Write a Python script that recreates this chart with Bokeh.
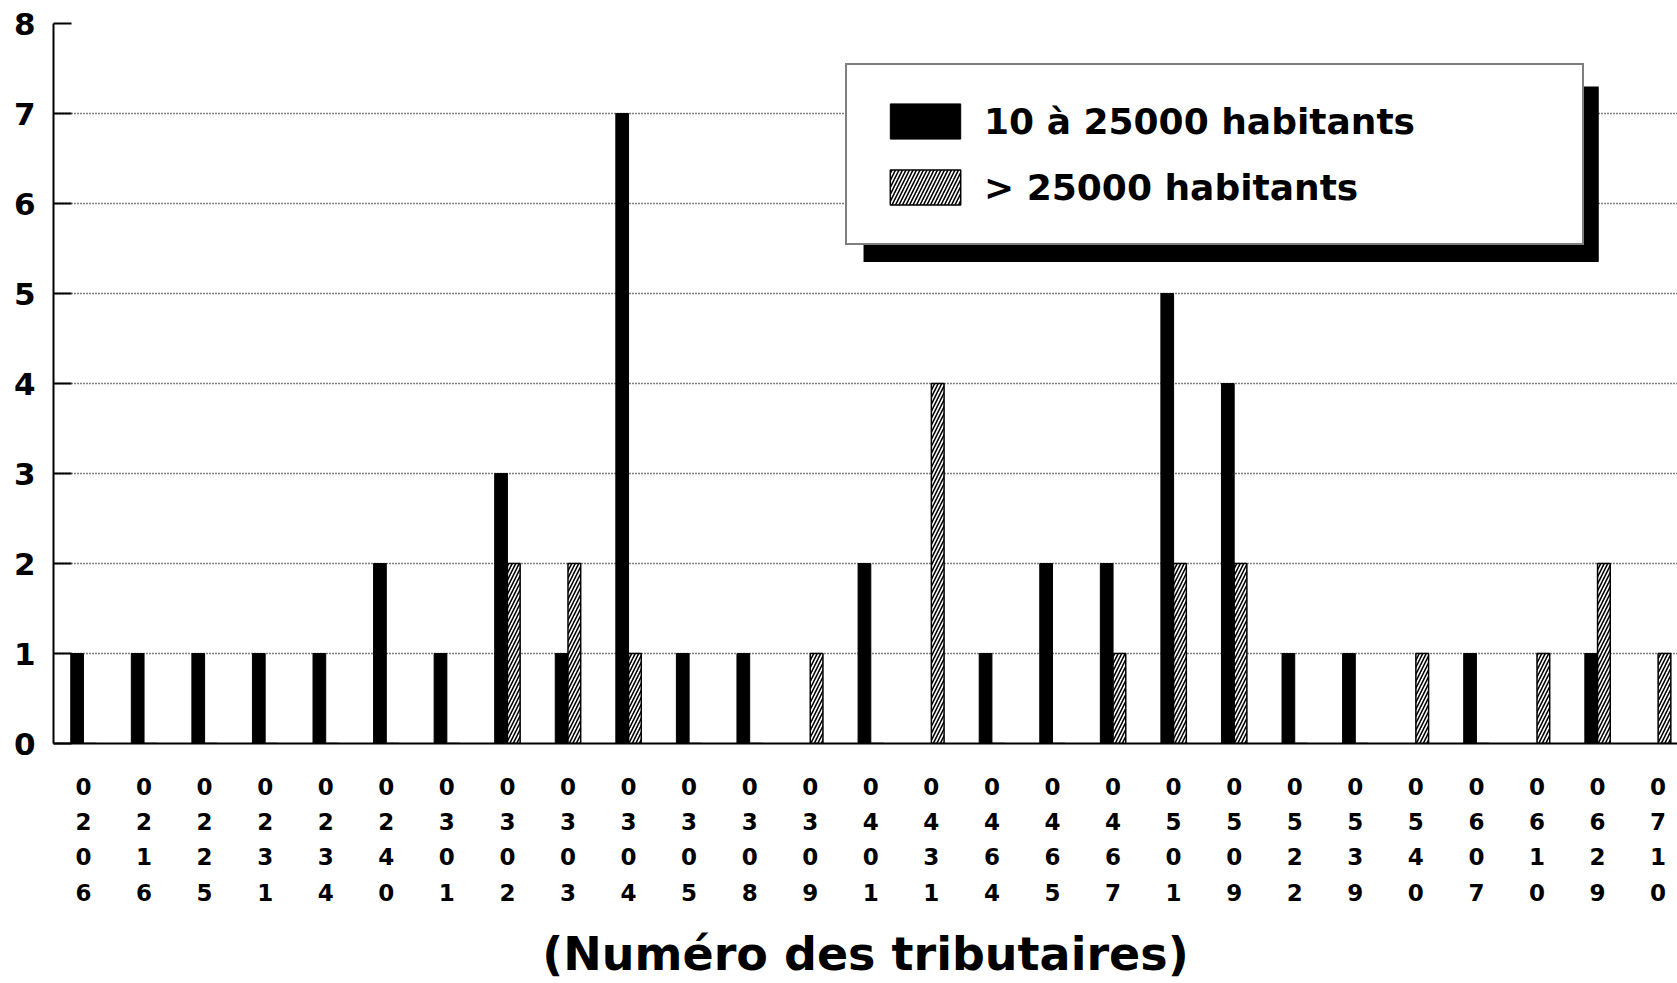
from bokeh.plotting import figure
from bokeh.models import (Range1d, FixedTicker, Legend, LegendItem, BoxAnnotation,
                          ColumnDataSource)
from bokeh.transform import dodge
from bokeh.embed import file_html
from bokeh.resources import INLINE

tribs = ["0206", "0216", "0225", "0231", "0234", "0240", "0301", "0302", "0303",
         "0304", "0305", "0308", "0309", "0401", "0431", "0464", "0465", "0467",
         "0501", "0509", "0522", "0539", "0540", "0607", "0610", "0629", "0710"]
small_towns = [1, 1, 1, 1, 1, 2, 1, 3, 1, 7, 1, 1, 0, 2, 0, 1, 2, 2, 5, 4, 1, 1, 0, 1, 0, 1, 0]
large_towns = [0, 0, 0, 0, 0, 0, 0, 2, 2, 1, 0, 0, 1, 0, 4, 0, 0, 1, 2, 2, 0, 0, 1, 0, 1, 2, 1]
y_ticks = [0, 1, 2, 3, 4, 5, 6, 7, 8]

FONT = "DejaVu Sans"

pos = list(range(len(tribs)))
src = ColumnDataSource(dict(x=pos, small=small_towns, large=large_towns))

p = figure(width=1677, height=983, x_range=Range1d(-0.495, 26.32), y_range=Range1d(0, 8),
           output_backend="svg", toolbar_location=None,
           min_border_left=53, min_border_right=0, min_border_top=23, min_border_bottom=236)
p.outline_line_color = None
p.background_fill_color = "white"

r1 = p.vbar(x=dodge("x", -0.105, range=p.x_range), top="small", width=0.21, source=src,
            fill_color="black", line_color="black", line_width=1)
r2 = p.vbar(x=dodge("x", 0.105, range=p.x_range), top="large", width=0.21, source=src,
            fill_color="white", line_color="black", line_width=1.5,
            hatch_pattern="/", hatch_color="black", hatch_scale=7, hatch_weight=1.6)

# grid
p.xgrid.visible = False
p.ygrid.grid_line_color = "black"
p.ygrid.grid_line_dash = "1 2"
p.ygrid.grid_line_width = 1.6

# y axis
p.yaxis.ticker = FixedTicker(ticks=y_ticks)
p.yaxis.axis_line_width = 2
p.yaxis.axis_line_color = "black"
p.yaxis.major_tick_in = 18
p.yaxis.major_tick_out = 0
p.yaxis.major_tick_line_width = 2
p.yaxis.minor_tick_line_color = None
p.yaxis.major_label_text_font = FONT
p.yaxis.major_label_text_font_size = "31px"
p.yaxis.major_label_text_font_style = "bold"
p.yaxis.major_label_text_color = "black"
p.yaxis.major_label_standoff = 18

# x axis
p.xaxis.ticker = FixedTicker(ticks=pos)
p.xaxis.major_label_overrides = {i: "\n".join(t) for i, t in zip(pos, tribs)}
p.xaxis.axis_line_width = 2
p.xaxis.axis_line_color = "black"
p.xaxis.major_tick_in = 0
p.xaxis.major_tick_out = 0
p.xaxis.minor_tick_line_color = None
p.xaxis.major_label_text_font = FONT
p.xaxis.major_label_text_font_size = "23px"
p.xaxis.major_label_text_line_height = 1.36
p.xaxis.major_label_text_font_style = "bold"
p.xaxis.major_label_text_color = "black"
p.xaxis.major_label_standoff = 30
p.xaxis.axis_label = "(Numéro des tributaires)"
p.xaxis.axis_label_text_font = FONT
p.xaxis.axis_label_text_font_size = "46px"
p.xaxis.axis_label_text_font_style = "bold"
p.xaxis.axis_label_text_color = "black"
p.xaxis.axis_label_standoff = 18

# legend shadow
shadow = BoxAnnotation(left=12.88, right=25.02, top=7.30, bottom=5.35,
                       fill_color="black", fill_alpha=1, line_color=None, level="annotation")
p.add_layout(shadow)

legend = Legend(items=[LegendItem(label="10 à 25000 habitants", renderers=[r1]),
                       LegendItem(label="> 25000 habitants", renderers=[r2])],
                location=(792, 498), orientation="vertical",
                glyph_width=88, glyph_height=44, label_height=43, label_width=564,
                label_standoff=15, spacing=22, padding=34, margin=0,
                label_text_font=FONT, label_text_font_size="36px",
                label_text_font_style="bold", label_text_color="black",
                border_line_color="black", border_line_width=2,
                background_fill_color="white", background_fill_alpha=1)
p.add_layout(legend, "center")

open("out.html", "w").write(file_html(p, INLINE))
